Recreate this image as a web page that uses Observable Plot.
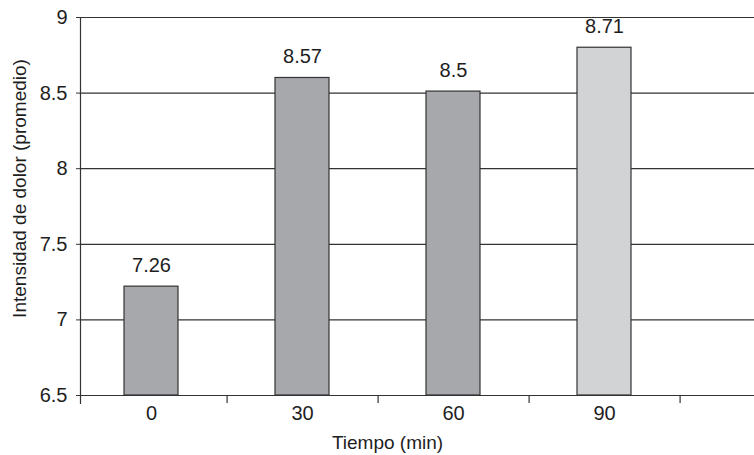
<!DOCTYPE html>
<html>
<head>
<meta charset="utf-8">
<script src="https://cdn.jsdelivr.net/npm/d3@7"></script>
<script src="https://cdn.jsdelivr.net/npm/@observablehq/plot@0.6"></script>
<style>
  html, body { margin: 0; padding: 0; background: #fff; }
  svg { display: block; }
</style>
</head>
<body>
<div id="chart"></div>
<script>
const categories = ["0", "30", "60", "90"];
const barHeights = [7.22, 8.6, 8.51, 8.8];
const barLabels = ["7.26", "8.57", "8.5", "8.71"];
const barFills = ["#a7a8ab", "#a7a8ab", "#a7a8ab", "#d2d3d5"];
const yTicks = [6.5, 7, 7.5, 8, 8.5, 9];
const xTitle = "Tiempo (min)";
const yTitle = "Intensidad de dolor (promedio)";

const data = categories.map((c, i) => ({cat: c, v: barHeights[i], label: barLabels[i], fill: barFills[i]}));
const FONT = "'Liberation Sans Narrow', 'Arial Narrow', 'Liberation Sans', Arial, sans-serif";

const chart = Plot.plot({
  width: 754,
  height: 455,
  marginLeft: 80,
  marginRight: 0,
  marginTop: 17,
  marginBottom: 60,
  style: {fontFamily: FONT, fontSize: "20px", color: "#1e1e1e", background: "#fff"},
  x: {type: "band", domain: [...categories, ""], range: [75, 832], paddingInner: 0.64, paddingOuter: 0.32, axis: null},
  y: {domain: [6.5, 9], axis: null},
  marks: [
    Plot.gridY(yTicks, {stroke: "#333", strokeOpacity: 1, strokeWidth: 1.2}),
    Plot.frame({anchor: "left", stroke: "#333", strokeWidth: 1.2, insetBottom: -8}),
    Plot.barY(data, {x: "cat", y1: 6.5, y2: "v", fill: "fill", stroke: "#333", strokeWidth: 1.2}),
    Plot.text(data, {x: "cat", y: "v", text: "label", dy: -21, lineAnchor: "middle", fontSize: 20, fill: "#1e1e1e"}),
    Plot.axisY(yTicks, {tickSize: 4, tickPadding: 9, stroke: "#333", fontSize: 20, tickFormat: d => String(d), fill: "#1e1e1e", label: null}),
    Plot.axisX(categories, {tickSize: 0, tickPadding: 10, fontSize: 20, fill: "#1e1e1e", label: null}),
    Plot.axisX(categories, {tickSize: 8, dx: 75.6, text: null, stroke: "#333", strokeWidth: 1.2, label: null}),
    Plot.text([xTitle], {frameAnchor: "bottom", textAnchor: "middle", dx: -30, dy: 47, lineAnchor: "middle", fontSize: 19, fill: "#1e1e1e"}),
    Plot.text([yTitle], {frameAnchor: "left", textAnchor: "middle", dx: -61, dy: -18, rotate: -90, lineAnchor: "middle", fontSize: 19, fill: "#1e1e1e"})
  ]
});
document.getElementById("chart").appendChild(chart);
</script>
</body>
</html>
